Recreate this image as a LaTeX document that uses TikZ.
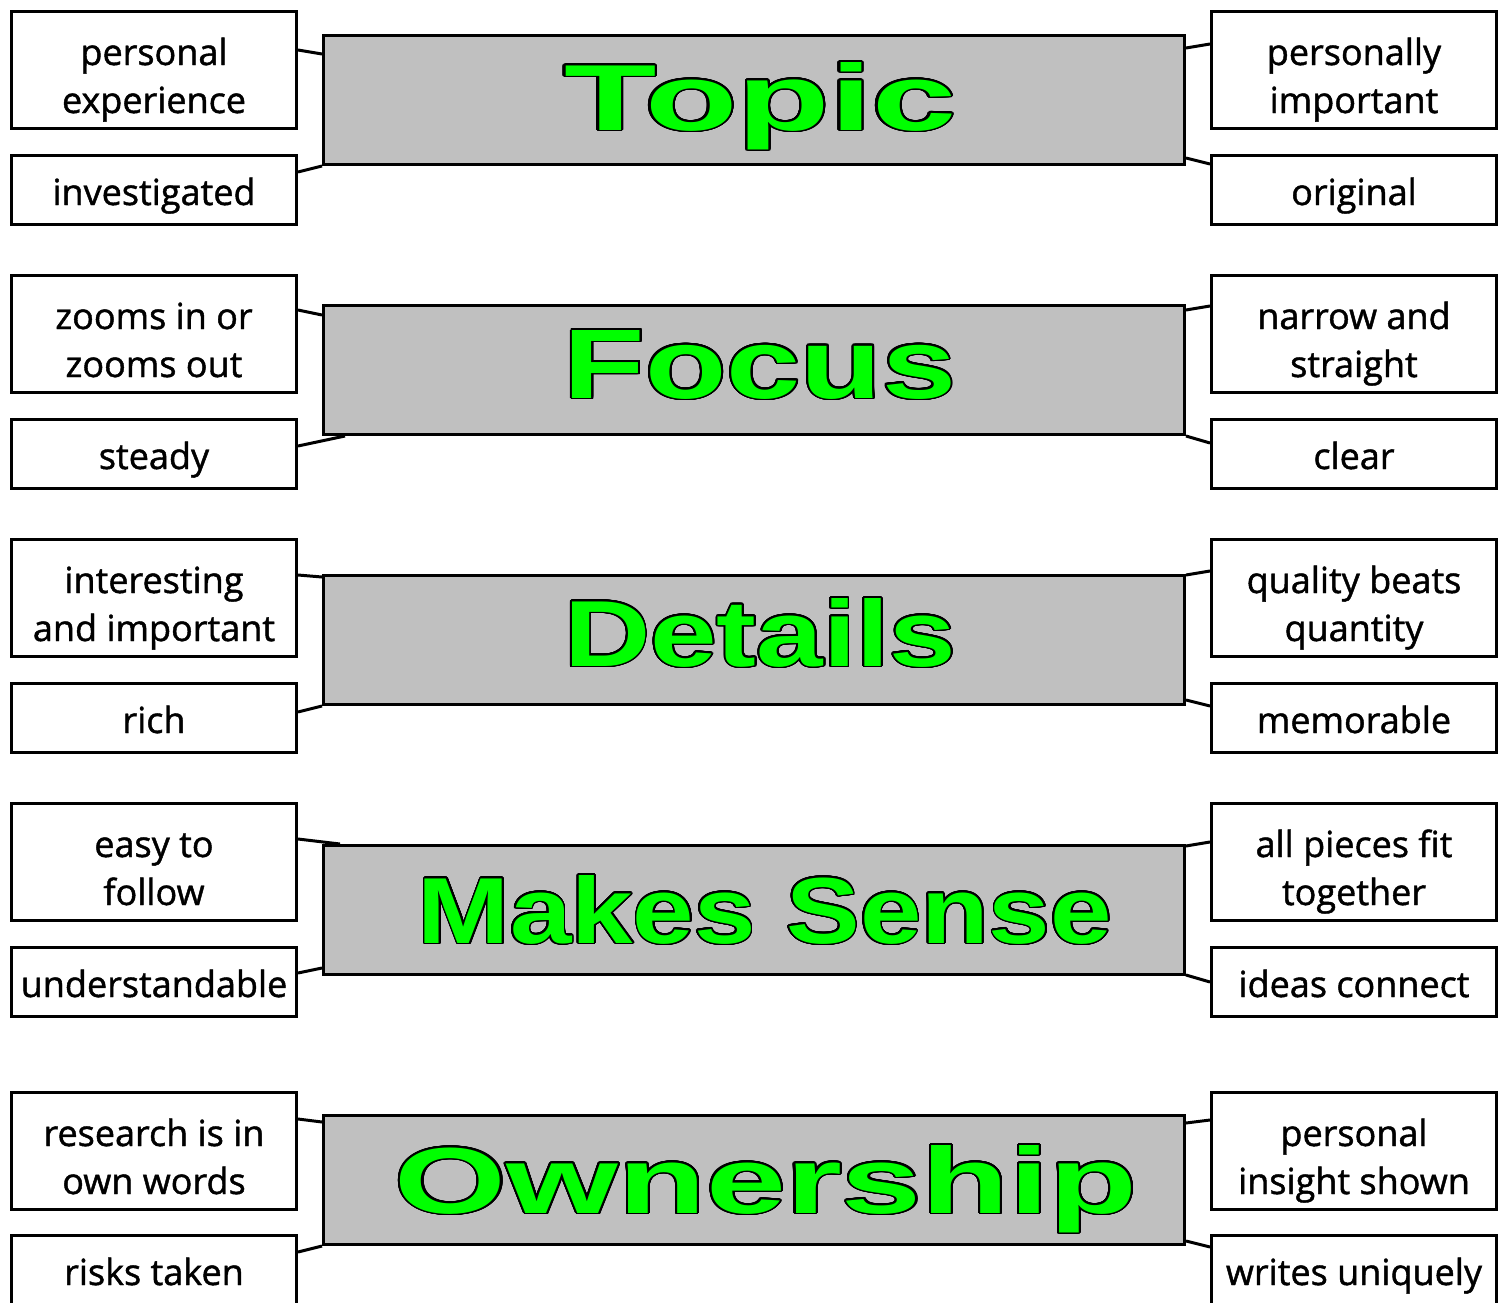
\documentclass[tikz,border=0pt]{standalone}
\usepackage{fontspec}
\usepackage{graphicx}
\usepackage{pdfrender}
\usepackage[copies]{contour}
\contourlength{0.6pt}
\contournumber{32}
\setmainfont{Open Sans}[FakeBold=1.2]
\newfontfamily\bigfont{Liberation Sans}
\usetikzlibrary{calc}
\definecolor{wgreen}{HTML}{00FF00}
\definecolor{boxgray}{HTML}{C0C0C0}
\newcommand\bigword[3]{%
  \resizebox{#1}{#2}{\fontsize{40}{40}\bigfont\bfseries\color{wgreen}%
    \textpdfrender{TextRenderingMode=FillStroke,LineWidth=3pt,LineJoinStyle=Round}{\contour{black}{#3}}}}
\newcommand\twol[2]{\rule{0pt}{23.5pt}#1\\#2\rule[-4.5pt]{0pt}{4.5pt}}
\newcommand\onel[1]{\rule[-4.5pt]{0pt}{24pt}#1}
\begin{document}
\begin{tikzpicture}[x=0.5pt,y=-0.5pt,
  sidebig/.style={draw,line width=1.5pt,fill=white,minimum width=142.5pt,minimum height=58.5pt,inner sep=0pt,align=center,font=\fontsize{18}{24}\selectfont},
  sidesmall/.style={sidebig,minimum height=34.5pt},
  centerbox/.style={draw,line width=1.5pt,fill=boxgray,minimum width=430.5pt,minimum height=64.5pt,inner sep=0pt},
  bigtext/.style={anchor=base,inner sep=0pt},
  conn/.style={line width=1.5pt}]
\useasboundingbox (0,0) rectangle (1505,1302);
\clip (0,0) rectangle (1505,1302);

% ---- Topic
\node[centerbox] (c1) at (754,100) {};
\node[sidebig] (l1a) at (154,70) {\twol{personal}{experience}};
\node[sidesmall] (l1b) at (154,190) {\onel{investigated}};
\node[sidebig] (r1a) at (1354,70) {\twol{personally}{important}};
\node[sidesmall] (r1b) at (1354,190) {\onel{original}};
\node[bigtext] (t1) at (760,130) {\bigword{196pt}{34pt}{Topic}};
\draw[conn] (l1a.east |- 0,50) -- (c1.west |- 0,54);
\draw[conn] (l1b.east |- 0,172) -- (c1.south west);
\draw[conn] (r1a.west |- 0,44) -- (c1.east |- 0,48);
\draw[conn] (r1b.west |- 0,164) -- (c1.east |- 0,158);

% ---- Focus
\node[centerbox] (c2) at (754,370) {};
\node[sidebig] (l2a) at (154,334) {\twol{zooms in or}{zooms out}};
\node[sidesmall] (l2b) at (154,454) {\onel{steady}};
\node[sidebig] (r2a) at (1354,334) {\twol{narrow and}{straight}};
\node[sidesmall] (r2b) at (1354,454) {\onel{clear}};
\node[bigtext] (t2) at (760,398) {\bigword{196pt}{34pt}{Focus}};
\draw[conn] (l2a.east |- 0,310) -- (c2.west |- 0,315);
\draw[conn] (l2b.east |- 0,446) -- ($(c2.south west)+(23,0)$);
\draw[conn] (r2a.west |- 0,306) -- (c2.east |- 0,310);
\draw[conn] (r2b.west |- 0,443) -- (c2.south east);

% ---- Details
\node[centerbox] (c3) at (754,640) {};
\node[sidebig] (l3a) at (154,598) {\twol{interesting}{and important}};
\node[sidesmall] (l3b) at (154,718) {\onel{rich}};
\node[sidebig] (r3a) at (1354,598) {\twol{quality beats}{quantity}};
\node[sidesmall] (r3b) at (1354,718) {\onel{memorable}};
\node[bigtext] (t3) at (760,666) {\bigword{196pt}{34pt}{Details}};
\draw[conn] (l3a.east |- 0,575) -- (c3.west |- 0,577);
\draw[conn] (l3b.east |- 0,712) -- (c3.south west);
\draw[conn] (r3a.west |- 0,571) -- (c3.east |- 0,575);
\draw[conn] (r3b.west |- 0,706) -- (c3.east |- 0,700);

% ---- Makes Sense
\node[centerbox] (c4) at (754,910) {};
\node[sidebig] (l4a) at (154,862) {\twol{easy to}{follow}};
\node[sidesmall] (l4b) at (154,982) {\onel{understandable}};
\node[sidebig] (r4a) at (1354,862) {\twol{all pieces fit}{together}};
\node[sidesmall] (r4b) at (1354,982) {\onel{ideas connect}};
\node[bigtext] (t4) at (765,943) {\bigword{347pt}{34pt}{Makes Sense}};
\draw[conn] (l4a.east |- 0,839) -- ($(c4.north west)+(18,0)$);
\draw[conn] (l4b.east |- 0,973) -- (c4.west |- 0,968);
\draw[conn] (r4a.west |- 0,842) -- (c4.east |- 0,846);
\draw[conn] (r4b.west |- 0,982) -- (c4.east |- 0,975);

% ---- Ownership
\node[centerbox] (c5) at (754,1180) {};
\node[sidebig] (l5a) at (154,1151) {\twol{research is in}{own words}};
\node[sidesmall] (l5b) at (154,1270) {\onel{risks taken}};
\node[sidebig] (r5a) at (1354,1151) {\twol{personal}{insight shown}};
\node[sidesmall] (r5b) at (1354,1270) {\onel{writes uniquely}};
\node[bigtext] (t5) at (766,1213) {\bigword{371pt}{34pt}{Ownership}};
\draw[conn] (l5a.east |- 0,1119) -- (c5.west |- 0,1122);
\draw[conn] (l5b.east |- 0,1252) -- (c5.south west);
\draw[conn] (r5a.west |- 0,1120) -- (c5.east |- 0,1123);
\draw[conn] (r5b.west |- 0,1247) -- (c5.east |- 0,1241);
\end{tikzpicture}
\end{document}
